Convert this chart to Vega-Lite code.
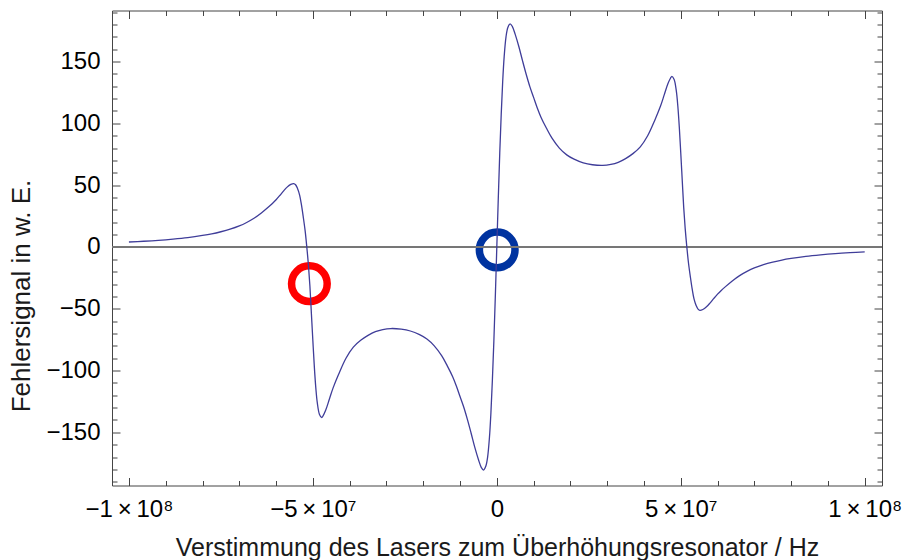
{
  "$schema": "https://vega.github.io/schema/vega-lite/v6.json",
  "width": 770,
  "height": 475,
  "autosize": "none",
  "padding": {"left": 112, "top": 10.5, "right": 22, "bottom": 74.5},
  "background": "white",
  "config": {
    "view": {"stroke": null},
    "font": "Liberation Sans",
    "axis": {
      "grid": false,
      "domainColor": "#444444",
      "tickColor": "#444444",
      "domainWidth": 1,
      "tickWidth": 1,
      "labelColor": "#000000",
      "labelFont": "Liberation Sans",
      "labelFontSize": 21,
      "titleFont": "Liberation Sans",
      "titleFontWeight": "normal",
      "titleColor": "#1a1a1a",
      "labelOverlap": false,
      "labelFlush": false,
      "labelBound": false
    }
  },
  "datasets": {
    "curve": [
      {"x": -100000000, "y": 4.0},
      {"x": -96000000, "y": 4.6},
      {"x": -92000000, "y": 5.35},
      {"x": -88000000, "y": 6.35},
      {"x": -84000000, "y": 7.6},
      {"x": -80000000, "y": 9.3},
      {"x": -77500000, "y": 10.6},
      {"x": -75000000, "y": 12.3},
      {"x": -72500000, "y": 14.35},
      {"x": -70000000, "y": 17.0},
      {"x": -68000000, "y": 19.8},
      {"x": -66000000, "y": 23.2},
      {"x": -64000000, "y": 27.5},
      {"x": -62000000, "y": 32.5},
      {"x": -61000000, "y": 35.2},
      {"x": -60000000, "y": 38.2},
      {"x": -59000000, "y": 41.6},
      {"x": -58000000, "y": 45.2},
      {"x": -57000000, "y": 48.4},
      {"x": -56000000, "y": 50.6},
      {"x": -55200000, "y": 51.3},
      {"x": -54700000, "y": 50.3},
      {"x": -54200000, "y": 47.5},
      {"x": -53600000, "y": 42.0},
      {"x": -53100000, "y": 34.0},
      {"x": -52600000, "y": 24.0},
      {"x": -52100000, "y": 13.0},
      {"x": -51650000, "y": 0.0},
      {"x": -51200000, "y": -15.0},
      {"x": -50800000, "y": -32.0},
      {"x": -50400000, "y": -54.0},
      {"x": -50000000, "y": -76.0},
      {"x": -49600000, "y": -97.0},
      {"x": -49200000, "y": -114.0},
      {"x": -48800000, "y": -126.0},
      {"x": -48200000, "y": -135.5},
      {"x": -47600000, "y": -138.0},
      {"x": -47200000, "y": -136.5},
      {"x": -46500000, "y": -132.0},
      {"x": -45500000, "y": -123.0},
      {"x": -44500000, "y": -114.0},
      {"x": -43000000, "y": -103.0},
      {"x": -41000000, "y": -90.0},
      {"x": -39000000, "y": -81.0},
      {"x": -37000000, "y": -75.5},
      {"x": -35000000, "y": -71.5},
      {"x": -33000000, "y": -68.5},
      {"x": -31000000, "y": -66.8},
      {"x": -28800000, "y": -66.0},
      {"x": -26000000, "y": -66.5},
      {"x": -23500000, "y": -68.0},
      {"x": -21000000, "y": -71.0},
      {"x": -19000000, "y": -74.5},
      {"x": -17000000, "y": -80.0},
      {"x": -15000000, "y": -88.0},
      {"x": -13500000, "y": -96.0},
      {"x": -12000000, "y": -105.0},
      {"x": -11000000, "y": -112.5},
      {"x": -10000000, "y": -121.0},
      {"x": -9000000, "y": -129.5},
      {"x": -8000000, "y": -139.5},
      {"x": -7000000, "y": -150.5},
      {"x": -6000000, "y": -162.0},
      {"x": -5000000, "y": -172.0},
      {"x": -4200000, "y": -178.5},
      {"x": -3600000, "y": -180.5},
      {"x": -3000000, "y": -177.5},
      {"x": -2500000, "y": -170.0},
      {"x": -2000000, "y": -154.0},
      {"x": -1600000, "y": -134.0},
      {"x": -1200000, "y": -107.5},
      {"x": -800000, "y": -76.0},
      {"x": -400000, "y": -39.5},
      {"x": 0, "y": 0.0},
      {"x": 400000, "y": 39.5},
      {"x": 800000, "y": 76.0},
      {"x": 1200000, "y": 107.5},
      {"x": 1600000, "y": 134.0},
      {"x": 2000000, "y": 154.0},
      {"x": 2500000, "y": 170.0},
      {"x": 3000000, "y": 177.5},
      {"x": 3600000, "y": 180.5},
      {"x": 4200000, "y": 178.5},
      {"x": 5000000, "y": 172.0},
      {"x": 6000000, "y": 162.0},
      {"x": 7000000, "y": 150.5},
      {"x": 8000000, "y": 139.5},
      {"x": 9000000, "y": 129.5},
      {"x": 10000000, "y": 121.0},
      {"x": 11000000, "y": 112.5},
      {"x": 12000000, "y": 105.0},
      {"x": 13500000, "y": 96.0},
      {"x": 15000000, "y": 88.0},
      {"x": 17000000, "y": 80.0},
      {"x": 19000000, "y": 74.5},
      {"x": 21000000, "y": 71.0},
      {"x": 23500000, "y": 68.0},
      {"x": 26000000, "y": 66.5},
      {"x": 28800000, "y": 66.0},
      {"x": 31000000, "y": 66.8},
      {"x": 33000000, "y": 68.5},
      {"x": 35000000, "y": 71.5},
      {"x": 37000000, "y": 75.5},
      {"x": 39000000, "y": 81.0},
      {"x": 41000000, "y": 90.0},
      {"x": 43000000, "y": 103.0},
      {"x": 44500000, "y": 114.0},
      {"x": 45500000, "y": 123.0},
      {"x": 46500000, "y": 132.0},
      {"x": 47200000, "y": 136.5},
      {"x": 47600000, "y": 138.0},
      {"x": 48200000, "y": 135.5},
      {"x": 48800000, "y": 126.0},
      {"x": 49200000, "y": 114.0},
      {"x": 49600000, "y": 97.0},
      {"x": 50000000, "y": 76.0},
      {"x": 50400000, "y": 54.0},
      {"x": 50800000, "y": 32.0},
      {"x": 51200000, "y": 15.0},
      {"x": 51650000, "y": 0.0},
      {"x": 52100000, "y": -13.0},
      {"x": 52600000, "y": -24.0},
      {"x": 53100000, "y": -34.0},
      {"x": 53600000, "y": -42.0},
      {"x": 54200000, "y": -47.5},
      {"x": 54700000, "y": -50.3},
      {"x": 55200000, "y": -51.3},
      {"x": 56000000, "y": -50.6},
      {"x": 57000000, "y": -48.4},
      {"x": 58000000, "y": -45.2},
      {"x": 59000000, "y": -41.6},
      {"x": 60000000, "y": -38.2},
      {"x": 61000000, "y": -35.2},
      {"x": 62000000, "y": -32.5},
      {"x": 64000000, "y": -27.5},
      {"x": 66000000, "y": -23.2},
      {"x": 68000000, "y": -19.8},
      {"x": 70000000, "y": -17.0},
      {"x": 72500000, "y": -14.35},
      {"x": 75000000, "y": -12.3},
      {"x": 77500000, "y": -10.6},
      {"x": 80000000, "y": -9.3},
      {"x": 84000000, "y": -7.6},
      {"x": 88000000, "y": -6.35},
      {"x": 92000000, "y": -5.35},
      {"x": 96000000, "y": -4.6},
      {"x": 100000000, "y": -4.0}
    ],
    "marker": [
      {"x": -50950000, "y": -29.7, "Markierung": "Seitenband"},
      {"x": 100000, "y": -2.4, "Markierung": "Träger"}
    ]
  },
  "layer": [
    {
      "data": {"name": "marker"},
      "mark": {"type": "point", "shape": "circle", "filled": false, "size": 1270, "strokeWidth": 7.5, "opacity": 1},
      "encoding": {
        "x": {
          "field": "x", "type": "quantitative",
          "scale": {"domain": [-104600000, 104700000], "nice": false, "zero": false},
          "axis": {
            "orient": "top",
            "values": [-100000000, -90000000, -80000000, -70000000, -60000000, -50000000, -40000000, -30000000, -20000000, -10000000, 0, 10000000, 20000000, 30000000, 40000000, 50000000, 60000000, 70000000, 80000000, 90000000, 100000000],
            "labels": false,
            "title": null,
            "tickSize": {"condition": {"test": "datum.value % 50000000 == 0", "value": -8}, "value": -5}
          }
        },
        "y": {
          "field": "y", "type": "quantitative",
          "scale": {"domain": [-193, 191.3], "nice": false, "zero": false},
          "axis": {
            "orient": "right",
            "values": [-190, -180, -170, -160, -150, -140, -130, -120, -110, -100, -90, -80, -70, -60, -50, -40, -30, -20, -10, 0, 10, 20, 30, 40, 50, 60, 70, 80, 90, 100, 110, 120, 130, 140, 150, 160, 170, 180, 190],
            "labels": false,
            "title": null,
            "tickSize": {"condition": {"test": "datum.value % 50 == 0", "value": -8}, "value": -5}
          }
        },
        "color": {
          "field": "Markierung", "type": "nominal",
          "scale": {"domain": ["Seitenband", "Träger"], "range": ["#ff0000", "#0033a0"]},
          "legend": null
        }
      }
    },
    {
      "data": {"name": "curve"},
      "mark": {"type": "rule", "color": "#777777", "strokeWidth": 1.2},
      "encoding": {
        "y": {"datum": 0, "type": "quantitative", "axis": null}
      }
    },
    {
      "data": {"name": "curve"},
      "mark": {"type": "line", "color": "#3f3d99", "strokeWidth": 1.3, "interpolate": "catmull-rom"},
      "encoding": {
        "x": {
          "field": "x", "type": "quantitative",
          "scale": {"domain": [-104600000, 104700000], "nice": false, "zero": false},
          "axis": {
            "orient": "bottom",
            "values": [-100000000, -90000000, -80000000, -70000000, -60000000, -50000000, -40000000, -30000000, -20000000, -10000000, 0, 10000000, 20000000, 30000000, 40000000, 50000000, 60000000, 70000000, 80000000, 90000000, 100000000],
            "labelExpr": "datum.value == 0 ? '0' : datum.value == 100000000 ? '1\u2009×\u200910⁸' : datum.value == -100000000 ? '−1\u2009×\u200910⁸' : datum.value == 50000000 ? '5\u2009×\u200910⁷' : datum.value == -50000000 ? '−5\u2009×\u200910⁷' : ''",
            "tickSize": {"condition": {"test": "datum.value % 50000000 == 0", "value": -8}, "value": -5},
            "labelPadding": 20,
            "labelFontSize": 24,
            "title": "Verstimmung des Lasers zum Überhöhungsresonator / Hz",
            "titleFontSize": 25,
            "titleBaseline": "alphabetic",
            "titleY": 70
          }
        },
        "y": {
          "field": "y", "type": "quantitative",
          "scale": {"domain": [-193, 191.3], "nice": false, "zero": false},
          "axis": {
            "orient": "left",
            "values": [-190, -180, -170, -160, -150, -140, -130, -120, -110, -100, -90, -80, -70, -60, -50, -40, -30, -20, -10, 0, 10, 20, 30, 40, 50, 60, 70, 80, 90, 100, 110, 120, 130, 140, 150, 160, 170, 180, 190],
            "labelExpr": "datum.value % 50 == 0 ? (datum.value < 0 ? '−' + abs(datum.value) : '' + datum.value) : ''",
            "tickSize": {"condition": {"test": "datum.value % 50 == 0", "value": -8}, "value": -5},
            "labelPadding": 20,
            "labelFontSize": 24,
            "title": "Fehlersignal in w. E.",
            "titleFontSize": 26,
            "titleAngle": -90,
            "titleAlign": "center",
            "titleBaseline": "alphabetic",
            "titleX": -83,
            "titleY": 285
          }
        }
      }
    }
  ],
  "resolve": {"axis": {"x": "independent", "y": "independent"}}
}
